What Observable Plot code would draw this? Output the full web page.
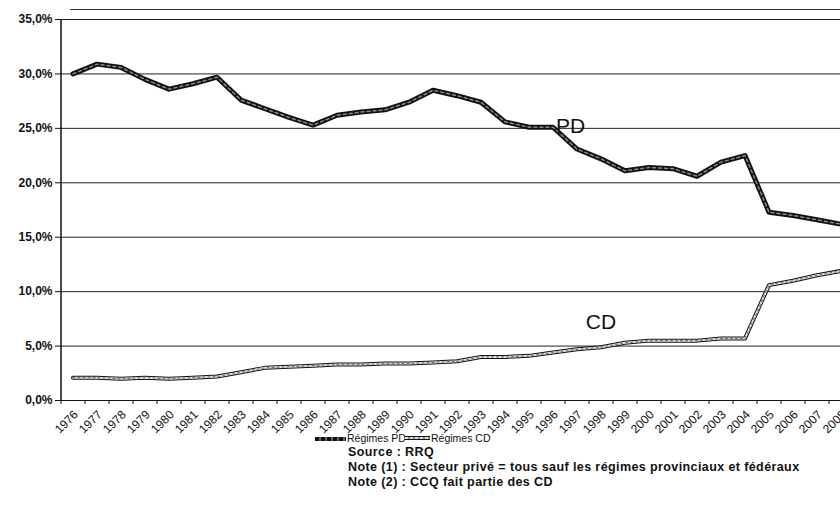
<!DOCTYPE html>
<html>
<head>
<meta charset="utf-8">
<script src="https://cdn.jsdelivr.net/npm/d3@7"></script>
<script src="https://cdn.jsdelivr.net/npm/@observablehq/plot@0.6"></script>
<style>
  html, body { margin: 0; padding: 0; background: white; overflow: hidden; }
  #wrap { position: relative; width: 840px; height: 520px; font-family: "Liberation Sans", Arial, sans-serif; overflow: hidden; }
  #chart { position: absolute; left: 0; top: 0; }
  .topline { position: absolute; left: 70px; top: 9px; width: 770px; height: 0; border-top: 1px solid #333; }
  .leg { position: absolute; font-size: 10.5px; line-height: 15px; color: #111; white-space: nowrap; }
  .note { position: absolute; left: 348px; font-size: 12.5px; letter-spacing: 0.4px; line-height: 15px; font-weight: bold; color: #111; white-space: nowrap; }
  .sw { position: absolute; }
  .sw.pd { height: 4px; background: repeating-linear-gradient(90deg, #111 0 4px, #666 4px 6px); }
  .sw.cd { height: 2px; background: repeating-linear-gradient(90deg, #ddd 0 3px, #888 3px 5px); border-top: 1px solid #111; border-bottom: 1px solid #111; }
</style>
</head>
<body>
<div id="wrap">
  <div id="chart"></div>
  <div class="topline"></div>
  <div class="sw pd" style="left:315px; top:437px; width:31px;"></div>
  <div class="leg" style="left:347px; top:431px;">Régimes PD</div>
  <div class="sw cd" style="left:405px; top:436px; width:25px;"></div>
  <div class="leg" style="left:431px; top:431px;">Régimes CD</div>
  <div class="note" style="top:445px;">Source : RRQ</div>
  <div class="note" style="top:460px;">Note (1) : Secteur privé = tous sauf les régimes provinciaux et fédéraux</div>
  <div class="note" style="top:475px;">Note (2) : CCQ fait partie des CD</div>
</div>
<script>
const years = d3.range(1976, 2009);
const pd = [30.0, 30.9, 30.6, 29.5, 28.6, 29.1, 29.7, 27.6, 26.8, 26.0, 25.3, 26.2, 26.5, 26.7, 27.4, 28.5, 28.0, 27.4, 25.6, 25.1, 25.1, 23.1, 22.2, 21.1, 21.4, 21.3, 20.6, 21.9, 22.5, 17.3, 17.0, 16.6, 16.2];
const cd = [2.1, 2.1, 2.0, 2.1, 2.0, 2.1, 2.2, 2.6, 3.0, 3.1, 3.2, 3.3, 3.3, 3.4, 3.4, 3.5, 3.6, 4.0, 4.0, 4.1, 4.4, 4.7, 4.9, 5.3, 5.5, 5.5, 5.5, 5.7, 5.7, 10.6, 11.0, 11.5, 11.9];
const yTicks = [0, 5, 10, 15, 20, 25, 30, 35];
const pdLabel = [{name: "PD", year: 1996, value: 25.2}];
const cdLabel = [{name: "CD", year: 1998, value: 7.2}];

const pdData = years.map((y, i) => ({year: y, value: pd[i]}));
const cdData = years.map((y, i) => ({year: y, value: cd[i]}));
const bounds = years.map(y => y - 0.5).concat([years[years.length - 1] + 0.5]);

const chart = Plot.plot({
  width: 840,
  height: 430,
  marginTop: 19,
  marginBottom: 30,
  marginLeft: 60,
  marginRight: 0,
  style: {fontFamily: "Liberation Sans, Arial, sans-serif", fontSize: "11px", background: "white", color: "#111", overflow: "visible"},
  x: {type: "linear", domain: [1975.5, 2008.5], range: [60.5, 852.5]},
  y: {domain: [0, 35], range: [400, 19]},
  marks: [
    Plot.ruleY(yTicks.filter(d => d > 0), {stroke: "#222", strokeWidth: 1}),
    Plot.axisY({ticks: yTicks, tickSize: 5, tickPadding: 3, fontWeight: "bold", fontSize: 12,
      tickFormat: d => d.toFixed(1).replace(".", ",") + "%", label: null}),
    Plot.axisX({ticks: bounds, tickSize: 4, tickFormat: () => "", label: null}),
    Plot.axisX({ticks: years, tickSize: 0, tickPadding: 12, tickRotate: -45, fontSize: 12, dx: 3, tickFormat: d => String(d), label: null}),
    Plot.ruleY([0], {stroke: "#111", strokeWidth: 1.2}),
    Plot.ruleX([1975.5], {stroke: "#111", strokeWidth: 1.5}),
    Plot.line(cdData, {x: "year", y: "value", stroke: "#111", strokeWidth: 4}),
    Plot.line(cdData, {x: "year", y: "value", stroke: "#e8e8e8", strokeWidth: 2}),
    Plot.line(cdData, {x: "year", y: "value", stroke: "#777", strokeWidth: 1.2, strokeDasharray: "2,3"}),
    Plot.line(pdData, {x: "year", y: "value", stroke: "#111", strokeWidth: 5}),
    Plot.line(pdData, {x: "year", y: "value", stroke: "#888", strokeWidth: 1.5, strokeDasharray: "3,3"}),
    Plot.text(pdLabel, {x: "year", y: "value", text: "name", textAnchor: "start", dx: 3, fontSize: 21, fill: "#111"}),
    Plot.text(cdLabel, {x: "year", y: "value", text: "name", textAnchor: "middle", fontSize: 21, fill: "#111"})
  ]
});
document.getElementById("chart").appendChild(chart);
</script>
</body>
</html>
